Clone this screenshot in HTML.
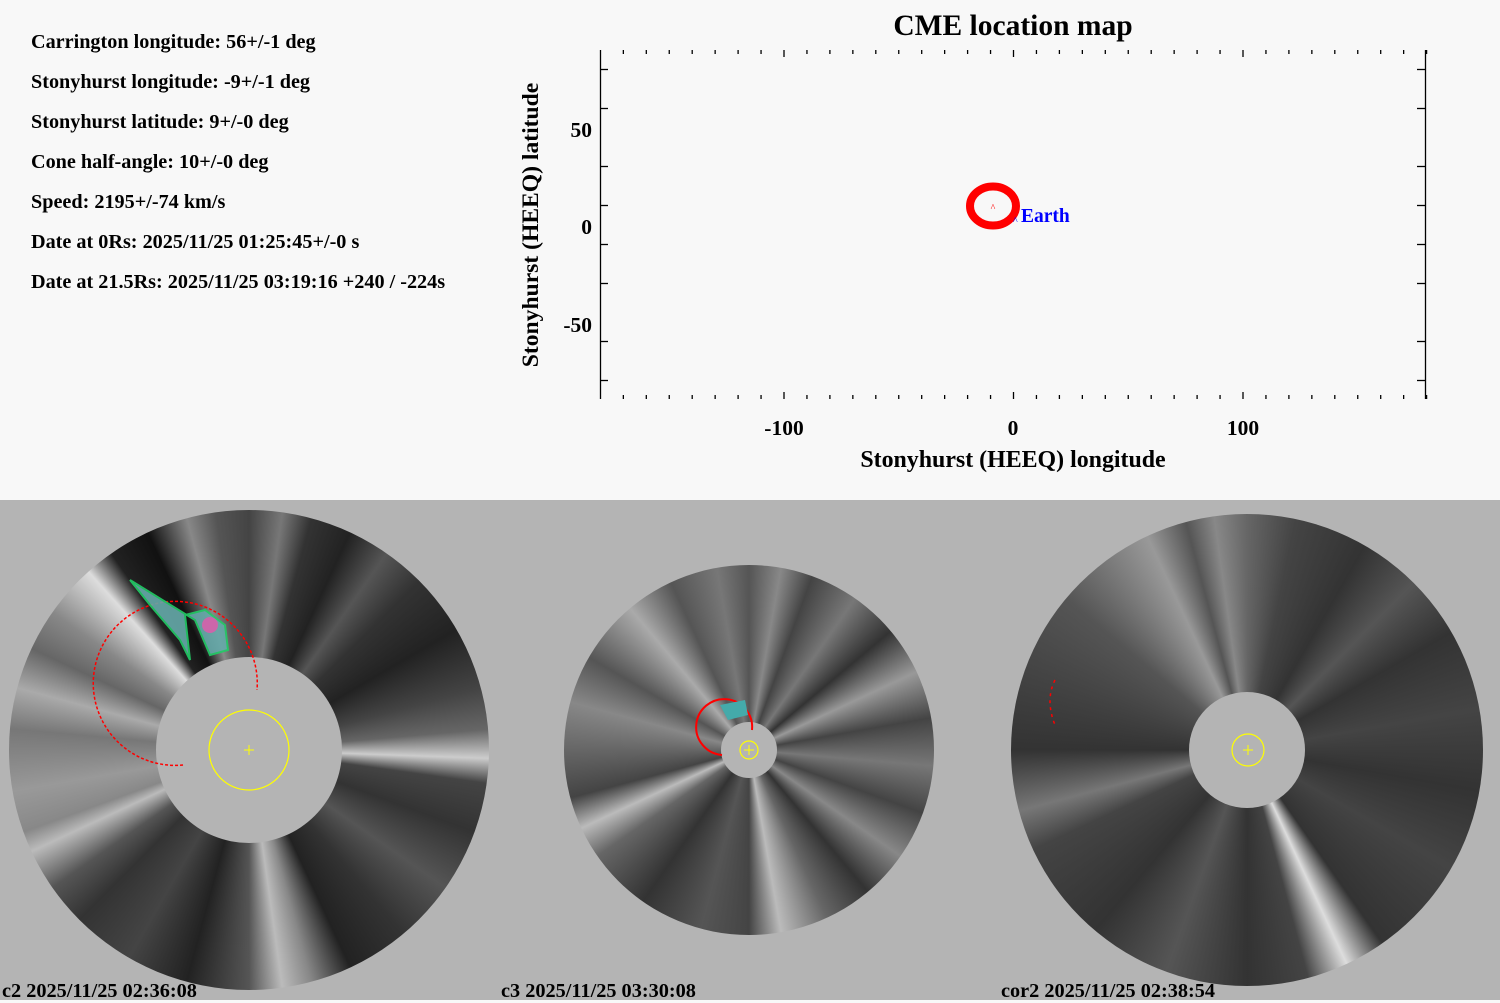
<!DOCTYPE html>
<html><head><style>
body{margin:0;width:1500px;height:1000px;overflow:hidden;background:#f8f8f8;font-family:"Liberation Serif",serif;font-weight:bold;position:relative}
.t{position:absolute;left:31px;font-size:20.2px;color:#000;white-space:nowrap}
#bot{position:absolute;left:0;top:500px;width:1500px;height:500px;background:#b4b4b4}
.d{position:absolute;border-radius:50%}
.lab{position:absolute;font-size:20.3px;top:980px;white-space:nowrap}
</style></head><body>
<div class="t" style="top:31px">Carrington longitude: 56+/-1 deg</div>
<div class="t" style="top:71px">Stonyhurst longitude: -9+/-1 deg</div>
<div class="t" style="top:111px">Stonyhurst latitude: 9+/-0 deg</div>
<div class="t" style="top:151px">Cone half-angle: 10+/-0 deg</div>
<div class="t" style="top:191px">Speed: 2195+/-74 km/s</div>
<div class="t" style="top:231px">Date at 0Rs: 2025/11/25 01:25:45+/-0 s</div>
<div class="t" style="top:271px">Date at 21.5Rs: 2025/11/25 03:19:16 +240 / -224s</div>

<svg style="position:absolute;left:0;top:0" width="1500" height="500">
<g font-family="Liberation Serif" font-weight="bold" fill="#000">
<text x="1013" y="35" font-size="29.5" text-anchor="middle">CME location map</text>
<text x="1013" y="467" font-size="23.9" text-anchor="middle">Stonyhurst (HEEQ) longitude</text>
<text transform="translate(538,225) rotate(-90)" font-size="23.6" text-anchor="middle">Stonyhurst (HEEQ) latitude</text>
<text x="784" y="435" font-size="21.5" text-anchor="middle">-100</text>
<text x="1013" y="435" font-size="21.5" text-anchor="middle">0</text>
<text x="1243" y="435" font-size="21.5" text-anchor="middle">100</text>
<text x="592" y="137" font-size="21.5" text-anchor="end">50</text>
<text x="592" y="234" font-size="21.5" text-anchor="end">0</text>
<text x="592" y="332" font-size="21.5" text-anchor="end">-50</text>
</g>
<g stroke="#000" stroke-width="1.3">
<line x1="600.5" y1="50" x2="600.5" y2="399"/>
<line x1="1425.5" y1="50" x2="1425.5" y2="399"/>
<g id="yt">
<line x1="600" y1="69.5" x2="608" y2="69.5"/><line x1="600" y1="108.5" x2="608" y2="108.5"/>
<line x1="600" y1="166.5" x2="608" y2="166.5"/><line x1="600" y1="205.5" x2="608" y2="205.5"/>
<line x1="600" y1="244.5" x2="608" y2="244.5"/><line x1="600" y1="283.5" x2="608" y2="283.5"/>
<line x1="600" y1="341.5" x2="608" y2="341.5"/><line x1="600" y1="380.5" x2="608" y2="380.5"/>
</g>
<g transform="translate(2025,0) scale(-1,1)"><use href="#yt"/></g>
</g>
<g stroke="#000" stroke-width="1.3" id="xticks"></g>
<ellipse cx="993" cy="206" rx="23" ry="19.5" fill="none" stroke="#f00" stroke-width="8"/>
<text x="993" y="211" font-size="10" fill="#f00" text-anchor="middle" font-weight="normal">^</text>
<text x="1013" y="224" font-size="10" fill="#00f" font-weight="normal">^</text>
<text x="1021" y="222" font-size="19.5" fill="#00f" font-family="Liberation Serif" font-weight="bold">Earth</text>
</svg>

<div id="bot"></div>
<div class="d" style="left:9px;top:510px;width:480px;height:480px;background:conic-gradient(from 0deg,#444 0deg,#777 8deg,#333 15deg,#222 25deg,#555 35deg,#333 45deg,#222 60deg,#444 75deg,#666 85deg,#ccc 92deg,#444 98deg,#333 110deg,#555 125deg,#333 140deg,#222 155deg,#888 165deg,#bbb 172deg,#555 180deg,#222 195deg,#444 210deg,#333 225deg,#555 235deg,#bbb 245deg,#888 250deg,#999 260deg,#777 275deg,#aaa 285deg,#666 295deg,#888 305deg,#ddd 318deg,#222 325deg,#111 335deg,#888 345deg,#555 352deg,#444 360deg)"></div>
<div class="d" style="left:156px;top:657px;width:186px;height:186px;background:#b4b4b4"></div>
<div class="d" style="left:564px;top:565px;width:370px;height:370px;background:conic-gradient(#555 0deg,#888 10deg,#444 20deg,#777 35deg,#333 50deg,#999 65deg,#444 80deg,#777 95deg,#444 110deg,#888 125deg,#333 140deg,#666 155deg,#bbb 170deg,#444 180deg,#555 195deg,#333 215deg,#666 235deg,#bbb 245deg,#444 255deg,#666 270deg,#888 285deg,#555 300deg,#aaa 320deg,#555 335deg,#777 350deg,#555 360deg)"></div>
<div class="d" style="left:721px;top:722px;width:56px;height:56px;background:#b4b4b4"></div>
<div class="d" style="left:1011px;top:514px;width:472px;height:472px;background:conic-gradient(#666 0deg,#444 12deg,#333 30deg,#555 45deg,#333 60deg,#444 80deg,#333 100deg,#444 120deg,#333 145deg,#ddd 155deg,#444 165deg,#333 180deg,#555 200deg,#333 220deg,#444 245deg,#777 255deg,#333 270deg,#444 290deg,#555 310deg,#999 335deg,#555 345deg,#888 352deg,#666 360deg)"></div>
<div class="d" style="left:1189px;top:692px;width:116px;height:116px;background:#b4b4b4"></div>

<svg style="position:absolute;left:0;top:0" width="1500" height="1000">
<circle cx="249" cy="750" r="40" fill="none" stroke="#ff0" stroke-width="1.2"/>
<path d="M244 750h10M249 745v10" stroke="#ff0"/>
<circle cx="749" cy="750" r="9" fill="none" stroke="#ff0" stroke-width="1.2"/>
<path d="M744 750h10M749 745v10" stroke="#ff0"/>
<circle cx="1248" cy="750" r="16" fill="none" stroke="#ff0" stroke-width="1.2"/>
<path d="M1243 750h10M1248 745v10" stroke="#ff0"/>
<path d="M183 765 A82 82 0 1 1 257 690" fill="none" stroke="#f00" stroke-width="1.5" stroke-dasharray="3 2"/>
<path d="M130 580 L150 605 L180 640 L190 660 L185 615 L205 610 L225 625 L228 650 L210 655 L195 620 Z" fill="#6aa" stroke="#2c6" stroke-width="2" opacity=".9"/>
<circle cx="210" cy="625" r="8" fill="#c6a"/>
<path d="M722 755 A28 28 0 1 1 752 730" fill="none" stroke="#f00" stroke-width="2"/>
<path d="M720 705 L745 700 L748 715 L728 720 Z" fill="#4aa"/>
<path d="M1055 680 Q1045 700 1055 725" fill="none" stroke="#f00" stroke-width="1.5" stroke-dasharray="3 4"/>
</svg>
<div class="lab" style="left:2px">c2 2025/11/25 02:36:08</div>
<div class="lab" style="left:501px">c3 2025/11/25 03:30:08</div>
<div class="lab" style="left:1001px">cor2 2025/11/25 02:38:54</div>
<script>
var g=document.getElementById('xticks'),s='';
for(var d=-170;d<=180;d+=10){var x=1013.5+d*2.295;var L=(d%100==0)?7:4;
s+='<line x1="'+x+'" y1="50" x2="'+x+'" y2="'+(50+L)+'"/><line x1="'+x+'" y1="399" x2="'+x+'" y2="'+(399-L)+'"/>';}
g.innerHTML=s;
</script>
</body></html>
